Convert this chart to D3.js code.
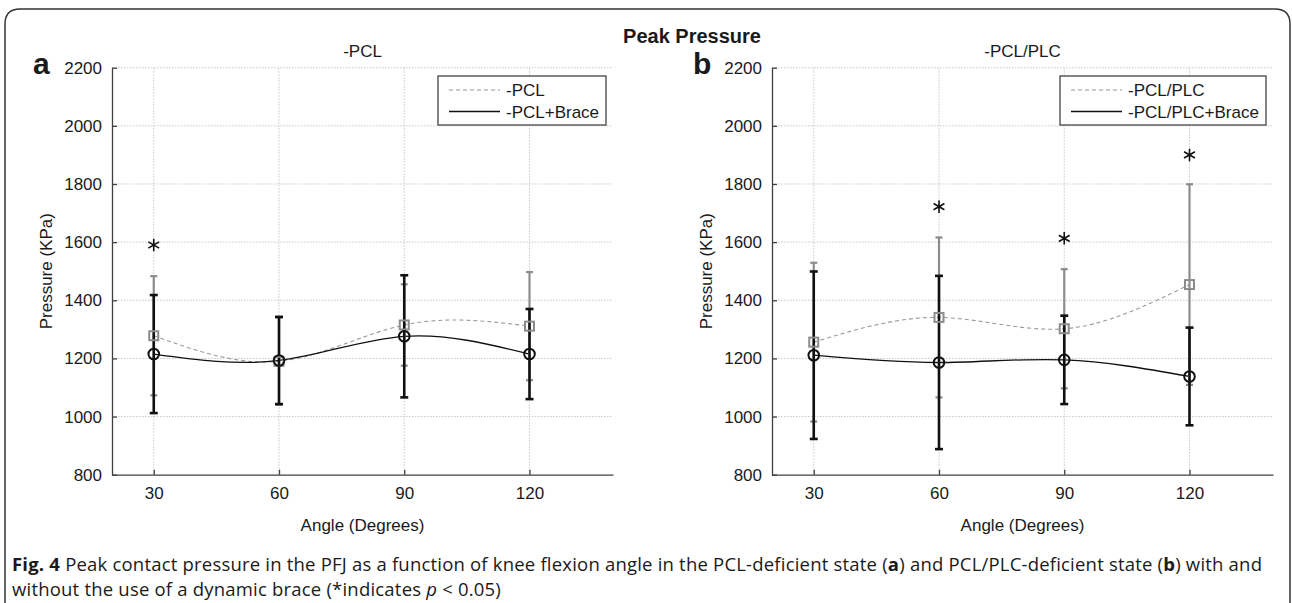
<!DOCTYPE html>
<html lang="en">
<head>
<meta charset="utf-8" />
<title>Peak Pressure</title>
<style>
  body { margin: 0; background: #fff; }
  svg text { fill: #1a1a1a; }
  .grid line { stroke: #c8c8c8; stroke-width: 1; stroke-dasharray: 1.5,1.5; }
  .axis path, .axis line { stroke: #404040; stroke-width: 1.3; }
  .axis text { font-size: 17px; fill: #1a1a1a; }
</style>
</head>
<body>
<script src="https://d3js.org/d3.v7.min.js"></script>
<script>
  // shared ticks
  const angles = [30, 60, 90, 120];
  const yTicks = [800, 1000, 1200, 1400, 1600, 1800, 2000, 2200];

  // panel a: -PCL
  const aPclMean = [1278, 1190, 1315, 1311];
  const aPclSd = [205, 150, 140, 186];
  const aBraceMean = [1215, 1193, 1276, 1215];
  const aBraceSd = [203, 150, 210, 155];
  const aSigAngles = [30];
  const aSigValues = [1590];

  // panel b: -PCL/PLC
  const bPclMean = [1256, 1341, 1302, 1454];
  const bPclSd = [273, 275, 205, 345];
  const bBraceMean = [1211, 1186, 1195, 1138];
  const bBraceSd = [288, 298, 152, 168];
  const bSigAngles = [60, 90, 120];
  const bSigValues = [1722, 1613, 1900];

  const W = 1292, H = 603;
  const grey = "#8c8c8c";
  const sans = "'Liberation Sans', Arial, Helvetica, sans-serif";

  const svg = d3.select("body").append("svg")
      .attr("width", W)
      .attr("height", H)
      .attr("font-family", sans);

  // rounded frame (bottom is cut off)
  svg.append("path")
      .attr("d", "M5,603 V24 Q5,9 20,9 H1275 Q1290,9 1290,24 V603")
      .attr("fill", "none")
      .attr("stroke", "#333")
      .attr("stroke-width", 1.5);

  svg.append("text")
      .attr("x", 692).attr("y", 43)
      .attr("text-anchor", "middle")
      .style("font-size", "20px").style("font-weight", "bold")
      .text("Peak Pressure");

  const panels = [
    {x0: 112, label: "a", title: "-PCL", name1: "-PCL", name2: "-PCL+Brace",
     m1: aPclMean, s1: aPclSd, m2: aBraceMean, s2: aBraceSd, sa: aSigAngles, sv: aSigValues, legW: 168},
    {x0: 772, label: "b", title: "-PCL/PLC", name1: "-PCL/PLC", name2: "-PCL/PLC+Brace",
     m1: bPclMean, s1: bPclSd, m2: bBraceMean, s2: bBraceSd, sa: bSigAngles, sv: bSigValues, legW: 206}
  ];

  panels.forEach(p => {
    const x = d3.scaleLinear().domain([20, 140]).range([p.x0, p.x0 + 501]);
    const y = d3.scaleLinear().domain([800, 2200]).range([474.7, 67.7]);
    const g = svg.append("g");

    // grid
    const grid = g.append("g").attr("class", "grid");
    grid.selectAll(".h").data(yTicks.slice(1)).enter().append("line")
        .attr("x1", x(20)).attr("x2", x(140))
        .attr("y1", d => y(d)).attr("y2", d => y(d));
    grid.selectAll(".v").data(angles).enter().append("line")
        .attr("x1", d => x(d)).attr("x2", d => x(d))
        .attr("y1", y(800)).attr("y2", y(2200));

    // axes
    g.append("g").attr("class", "axis")
        .attr("transform", "translate(0," + y(800) + ")")
        .call(d3.axisBottom(x).tickValues(angles).tickFormat(d3.format("d"))
              .tickSizeInner(-5).tickSizeOuter(0).tickPadding(12))
        .attr("font-family", sans);
    g.append("g").attr("class", "axis")
        .attr("transform", "translate(" + x(20) + ",0)")
        .call(d3.axisLeft(y).tickValues(yTicks).tickFormat(d3.format("d"))
              .tickSizeInner(-5).tickSizeOuter(0).tickPadding(10))
        .attr("font-family", sans);

    // labels
    g.append("text")
        .attr("x", (x(20) + x(140)) / 2).attr("y", 57)
        .attr("text-anchor", "middle").style("font-size", "17px")
        .text(p.title);
    g.append("text")
        .attr("x", x(20) - 79).attr("y", 74)
        .style("font-size", "30px").style("font-weight", "bold")
        .text(p.label);
    g.append("text")
        .attr("x", (x(20) + x(140)) / 2).attr("y", 531)
        .attr("text-anchor", "middle").style("font-size", "17px")
        .text("Angle (Degrees)");
    g.append("text")
        .attr("transform", "translate(" + (x(20) - 60) + "," + ((y(800) + y(2200)) / 2) + ") rotate(-90)")
        .attr("text-anchor", "middle").style("font-size", "17px")
        .text("Pressure (KPa)");

    const line = d3.line().x((d, i) => x(angles[i])).y(d => y(d)).curve(d3.curveNatural);

    // series without brace (grey, dashed)
    g.append("path").datum(p.m1)
        .attr("d", line).attr("fill", "none")
        .attr("stroke", "#9a9a9a").attr("stroke-width", 1.1).attr("stroke-dasharray", "4,3");
    // series with brace (black)
    g.append("path").datum(p.m2)
        .attr("d", line).attr("fill", "none")
        .attr("stroke", "#111").attr("stroke-width", 1.3);

    function errorBars(means, sds, color, sw, cap) {
      const eb = g.append("g").attr("stroke", color).attr("stroke-width", sw);
      means.forEach((m, i) => {
        const cx = x(angles[i]);
        eb.append("line").attr("x1", cx).attr("x2", cx).attr("y1", y(m - sds[i])).attr("y2", y(m + sds[i]));
        eb.append("line").attr("x1", cx - cap).attr("x2", cx + cap).attr("y1", y(m + sds[i])).attr("y2", y(m + sds[i]));
        eb.append("line").attr("x1", cx - cap).attr("x2", cx + cap).attr("y1", y(m - sds[i])).attr("y2", y(m - sds[i]));
      });
    }
    errorBars(p.m1, p.s1, grey, 2.2, 3.5);
    errorBars(p.m2, p.s2, "#111", 2.6, 4);

    g.selectAll(".sq").data(p.m1).enter().append("rect")
        .attr("x", (d, i) => x(angles[i]) - 4.5)
        .attr("y", d => y(d) - 4.5)
        .attr("width", 9).attr("height", 9)
        .attr("fill", "none").attr("stroke", grey).attr("stroke-width", 2);
    g.selectAll(".ci").data(p.m2).enter().append("circle")
        .attr("cx", (d, i) => x(angles[i]))
        .attr("cy", d => y(d))
        .attr("r", 5.3)
        .attr("fill", "none").attr("stroke", "#111").attr("stroke-width", 2);

    // significance markers
    const star = d3.symbol().type(d3.symbolAsterisk).size(110);
    g.selectAll(".star").data(p.sv).enter().append("path")
        .attr("d", star)
        .attr("transform", (d, i) => "translate(" + x(p.sa[i]) + "," + y(d) + ")")
        .attr("fill", "none").attr("stroke", "#111").attr("stroke-width", 1.6);

    // legend
    const lx = x(140) - 7 - p.legW, ly = 76;
    const leg = g.append("g").attr("transform", "translate(" + lx + "," + ly + ")");
    leg.append("rect").attr("width", p.legW).attr("height", 49)
        .attr("fill", "#fff").attr("stroke", "#444").attr("stroke-width", 1.3);
    leg.append("line").attr("x1", 11).attr("x2", 62).attr("y1", 14).attr("y2", 14)
        .attr("stroke", "#9a9a9a").attr("stroke-width", 1.1).attr("stroke-dasharray", "4,3");
    leg.append("line").attr("x1", 11).attr("x2", 62).attr("y1", 35.5).attr("y2", 35.5)
        .attr("stroke", "#111").attr("stroke-width", 1.3);
    leg.append("text").attr("x", 68).attr("y", 20).style("font-size", "17px").text(p.name1);
    leg.append("text").attr("x", 68).attr("y", 41.5).style("font-size", "17px").text(p.name2);
  });

  // caption
  const capFont = "'Open Sans', 'Noto Sans', sans-serif";
  const cap = svg.append("g").attr("font-family", capFont)
      .style("font-size", "18.5px").style("letter-spacing", "0.2px");
  const l1 = cap.append("text").attr("x", 12).attr("y", 571);
  l1.append("tspan").style("font-weight", "bold").text("Fig. 4");
  l1.append("tspan").text(" Peak contact pressure in the PFJ as a function of knee flexion angle in the PCL-deficient state (");
  l1.append("tspan").style("font-weight", "bold").text("a");
  l1.append("tspan").text(") and PCL/PLC-deficient state (");
  l1.append("tspan").style("font-weight", "bold").text("b");
  l1.append("tspan").text(") with and");
  const l2 = cap.append("text").attr("x", 12).attr("y", 596);
  l2.append("tspan").text("without the use of a dynamic brace (*indicates ");
  l2.append("tspan").style("font-style", "italic").text("p");
  l2.append("tspan").text(" < 0.05)");
</script>
</body>
</html>
